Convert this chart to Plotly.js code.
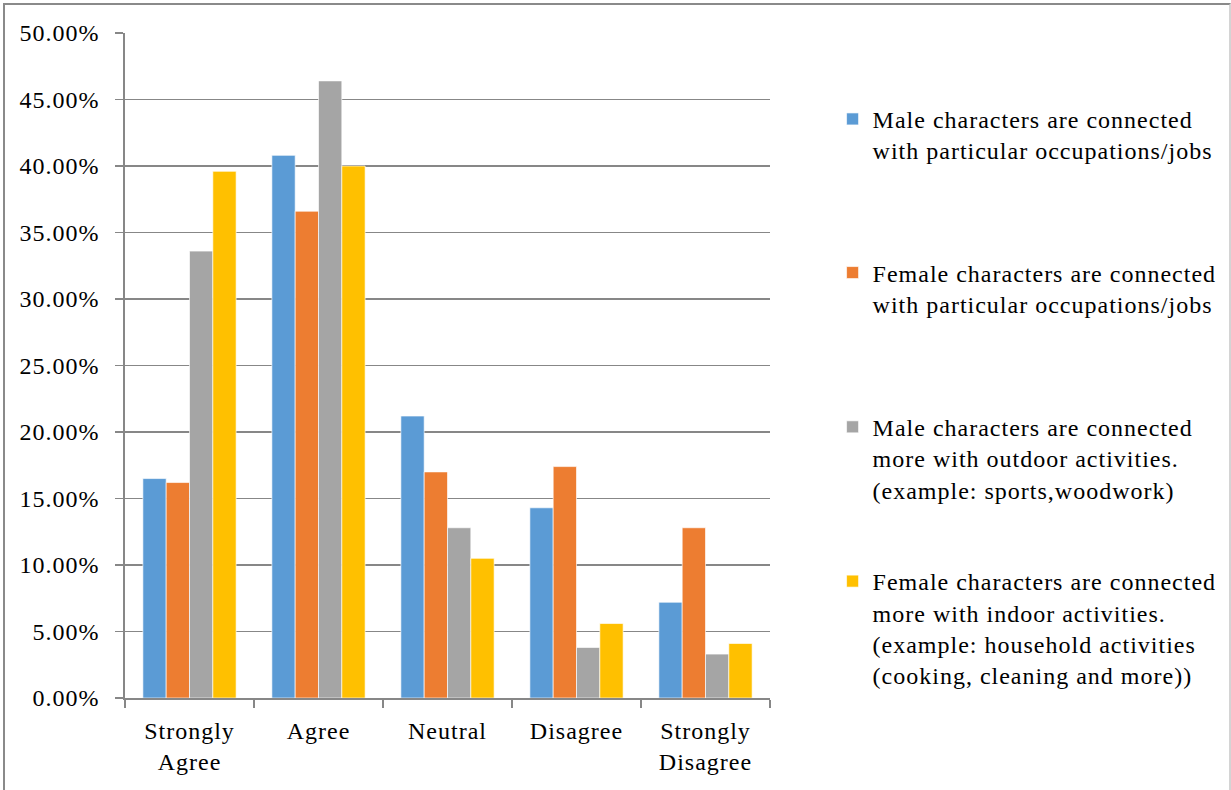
<!DOCTYPE html>
<html>
<head>
<meta charset="utf-8">
<script src="https://cdn.plot.ly/plotly-3.0.1.min.js"></script>
<style>
  html, body { margin: 0; padding: 0; background: #fff; }
  #wrap { position: relative; width: 1231px; height: 790px; overflow: hidden; }
  #chart { width: 1231px; height: 790px; }
  /* slightly open tracking for all chart text */
  #chart text { letter-spacing: 1px; }
  /* the wider tracking is not measured by the legends, so let them overflow their boxes */
  #chart .scrollbox,
  #chart g[class^="legend"],
  #chart g.legend, #chart g.legend2, #chart g.legend3, #chart g.legend4 { clip-path: none !important; }
  #frame {
    position: absolute; left: 3px; top: 3px; width: 1224px; height: 820px;
    border-left: 2px solid #8a8a8a; border-top: 2px solid #8a8a8a;
    border-right: 2px solid #d4d4d4; pointer-events: none;
  }
</style>
</head>
<body>
<div id="wrap">
  <div id="chart"></div>
  <div id="frame"></div>
</div>
<script>
// Response categories along the x axis
const categories = ["Strongly<br>Agree", "Agree", "Neutral", "Disagree", "Strongly<br>Disagree"];

// Legend labels for each statement
const seriesNames = [
  "Male characters are connected<br>with particular occupations/jobs",
  "Female characters are connected<br>with particular occupations/jobs",
  "Male characters are connected<br>more with outdoor activities.<br>(example: sports,woodwork)",
  "Female characters are connected<br>more with indoor activities.<br>(example: household activities<br>(cooking, cleaning and more))"
];

// Share of respondents per category (fractions)
const maleJobs      = [0.165, 0.408, 0.212, 0.143, 0.072];
const femaleJobs    = [0.162, 0.366, 0.170, 0.174, 0.128];
const maleOutdoor   = [0.336, 0.464, 0.128, 0.038, 0.033];
const femaleIndoor  = [0.396, 0.400, 0.105, 0.056, 0.041];

const seriesValues = [maleJobs, femaleJobs, maleOutdoor, femaleIndoor];
const colors = ["#5B9BD5", "#ED7D31", "#A5A5A5", "#FFC000"];
const legendIds = ["legend", "legend2", "legend3", "legend4"];

const fontFamily = "Times New Roman, Liberation Serif, DejaVu Serif, serif";

const traces = seriesValues.map((vals, i) => ({
  type: "bar",
  x: categories,
  y: vals,
  name: seriesNames[i],
  legend: legendIds[i],
  marker: { color: colors[i], line: { color: "rgba(255,255,255,0.8)", width: 0.8 } },
  hovertemplate: "%{y:.2%}<extra></extra>"
}));

// Each statement gets its own legend box so the entries can be spaced out
const legendTops = [0.904, 0.673, 0.441, 0.209];
const legendBase = {
  x: 1.097, xanchor: "left", yanchor: "top",
  bgcolor: "rgba(0,0,0,0)", borderwidth: 0,
  valign: "top",
  font: { family: fontFamily, size: 24, color: "#000" },
  itemclick: false, itemdoubleclick: false
};

const layout = {
  width: 1231, height: 790,
  margin: { l: 125, r: 461, t: 33, b: 92, pad: 0 },
  paper_bgcolor: "#fff", plot_bgcolor: "#fff",
  font: { family: fontFamily, size: 24, color: "#000" },
  barmode: "group",
  bargap: 0.277,
  bargroupgap: 0,
  showlegend: true,
  xaxis: {
    type: "category",
    tickson: "boundaries",
    ticks: "outside", ticklen: 8, tickwidth: 1.8, tickcolor: "#878787",
    showline: true, linecolor: "#878787", linewidth: 1.8,
    showgrid: false,
    ticklabelstandoff: 10,
    tickfont: { family: fontFamily, size: 24, color: "#000" }
  },
  yaxis: {
    range: [0, 0.5], dtick: 0.05, tick0: 0,
    tickformat: ".2%",
    ticks: "outside", ticklen: 8, tickwidth: 1.8, tickcolor: "#878787",
    showline: true, linecolor: "#878787", linewidth: 1.8,
    showgrid: true, gridcolor: "#878787", gridwidth: 1.8,
    zeroline: false,
    ticklabelstandoff: 11,
    tickfont: { family: fontFamily, size: 24, color: "#000" }
  }
};
legendIds.forEach((id, i) => {
  layout[id] = Object.assign({}, legendBase, { y: legendTops[i] });
});

Plotly.newPlot("chart", traces, layout, { displayModeBar: false, staticPlot: true }).then(gd => {
  // drop any remaining legend clip so the tracked text is fully visible
  gd.querySelectorAll("g.scrollbox, g[class^='legend']").forEach(g => {
    g.removeAttribute("clip-path");
  });
});
</script>
</body>
</html>
